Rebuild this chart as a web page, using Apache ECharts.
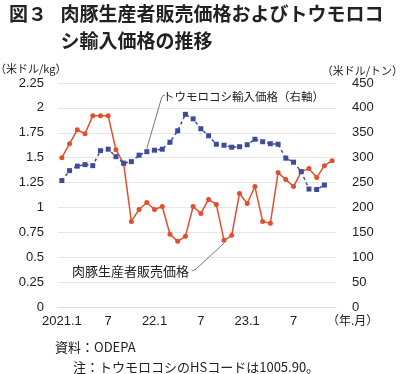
<!DOCTYPE html>
<html>
<head>
<meta charset="utf-8">
<script src="https://cdn.jsdelivr.net/npm/echarts@6/dist/echarts.min.js"></script>
<style>
html,body{margin:0;padding:0;background:#fff;}
#chart{width:400px;height:374px;}
</style>
</head>
<body>
<div id="chart"></div>
<script>
// ---- data ----
const months = ["2021.1","2","3","4","5","6","7","8","9","10","11","12",
                "22.1","2","3","4","5","6","7","8","9","10","11","12",
                "23.1","2","3","4","5","6","7","8","9","10","11","12"];
// 肉豚生産者販売価格 (米ドル/kg, 左軸)
const porkPrice = [1.50,1.64,1.78,1.74,1.92,1.92,1.92,1.58,1.44,0.86,0.98,1.05,
                   0.98,1.01,0.73,0.66,0.71,1.01,0.94,1.08,1.03,0.67,0.72,1.14,
                   1.04,1.21,0.86,0.84,1.35,1.28,1.21,1.36,1.39,1.30,1.42,1.47];
// トウモロコシ輸入価格 (米ドル/トン, 右軸)
const cornPrice = [254,274,283,286,284,314,317,302,289,292,305,312,
                   315,317,331,354,387,378,358,344,327,325,321,322,
                   326,337,332,328,327,299,291,272,237,236,245,null];
const leftTicks = {min:0, max:2.25, interval:0.25};
const rightTicks = {min:0, max:450, interval:50};

const FONT = "'Liberation Sans','Noto Sans CJK JP',sans-serif";
const CJK = "'Noto Sans CJK JP','Liberation Sans',sans-serif";
const RED = '#e0502e';
const BLUE = '#3d4b9a';

const chart = echarts.init(document.getElementById('chart'), null, {renderer:'canvas'});

const option = {
  animation:false,
  backgroundColor:'#fff',
  grid:{left:58, right:64, top:83, bottom:67},
  xAxis:{
    type:'category',
    data:months,
    boundaryGap:true,
    axisTick:{show:false},
    axisLine:{lineStyle:{color:'#dcdcdc'}},
    axisLabel:{interval:5, margin:8, fontSize:13, color:'#222', fontFamily:FONT}
  },
  yAxis:[
    {type:'value', min:leftTicks.min, max:leftTicks.max, interval:leftTicks.interval,
     axisLine:{show:false}, axisTick:{show:false},
     splitLine:{lineStyle:{color:'#e6e6e6'}},
     axisLabel:{margin:14, fontSize:13, color:'#222', fontFamily:FONT}},
    {type:'value', min:rightTicks.min, max:rightTicks.max, interval:rightTicks.interval,
     axisLine:{show:false}, axisTick:{show:false}, splitLine:{show:false},
     axisLabel:{margin:16, fontSize:13, color:'#222', fontFamily:FONT}}
  ],
  series:[
    {name:'肉豚生産者販売価格', type:'line', yAxisIndex:0, data:porkPrice,
     symbol:'circle', symbolSize:5, showAllSymbol:true,
     itemStyle:{color:RED}, lineStyle:{color:RED, width:1.5}},
    {name:'トウモロコシ輸入価格', type:'line', yAxisIndex:1, data:cornPrice,
     symbol:'rect', symbolSize:5, showAllSymbol:true,
     itemStyle:{color:BLUE}, lineStyle:{color:BLUE, width:1.5, type:[3,3]}}
  ]
};
chart.setOption(option);

const pBlue = chart.convertToPixel({gridIndex:0}, [11, 0]);
const pBlueY = chart.convertToPixel({yAxisIndex:1}, cornPrice[11]);
const pRed = chart.convertToPixel({gridIndex:0}, [21, 0]);
const pRedY = chart.convertToPixel({yAxisIndex:0}, porkPrice[21]);

function txt(x, y, text, size, opts){
  return Object.assign({type:'text', x:x, y:y, silent:true,
    style:Object.assign({text:text, font:size+'px '+CJK, fill:'#222',
      textVerticalAlign:'middle', textAlign:'left'}, opts||{})});
}

chart.setOption({
  graphic:[
    txt(9, 14, '図３', 19, {font:'bold 19px '+CJK}),
    txt(60.5, 14, '肉豚生産者販売価格およびトウモロコ', 19, {font:'bold 19px '+CJK}),
    txt(60.5, 41, 'シ輸入価格の推移', 19, {font:'bold 19px '+CJK}),
    txt(-5, 69, '（米ドル/kg）', 11),
    txt(403, 71, '（米ドル/トン）', 11, {textAlign:'right'}),
    txt(327, 320, '（年.月）', 12),
    txt(163, 97, 'トウモロコシ輸入価格（右軸）', 11.5),
    txt(72, 271, '肉豚生産者販売価格', 13),
    txt(55, 347, '資料：ODEPA', 13),
    txt(73, 367, '注：トウモロコシのHSコードは1005.90。', 13),
    {type:'polyline', silent:true,
     shape:{points:[[pBlue[0], pBlueY-3],[161.5, 98],[163, 95.5],[165, 95]]},
     style:{stroke:'#555', lineWidth:0.8, fill:null}},
    {type:'polyline', silent:true,
     shape:{points:[[pRed[0], pRedY+3],[196, 269],[192, 271]]},
     style:{stroke:'#555', lineWidth:0.8, fill:null}}
  ]
});
</script>
</body>
</html>
